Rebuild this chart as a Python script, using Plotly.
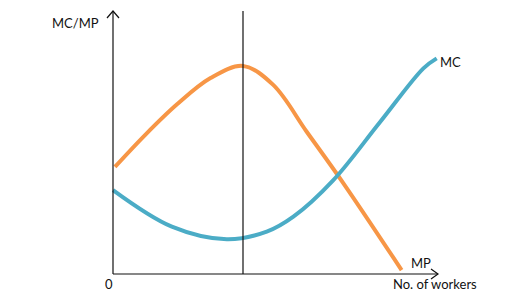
import plotly.graph_objects as go

# Data (x: number of workers in arbitrary units, y: MC/MP value)
mp_x = [0.06, 1.0, 1.97, 3.0, 4.0, 4.93, 5.96, 7.09, 8.88]
mp_y = [4.07, 5.30, 6.45, 7.45, 7.91, 7.19, 5.41, 3.45, 0.15]

mc_x = [0.0, 1.81, 3.5, 4.73, 5.55, 6.78, 8.2, 9.55, 9.96]
mc_y = [3.19, 1.80, 1.32, 1.61, 2.18, 3.57, 5.75, 7.82, 8.20]

x_axis_end = 10.0
y_axis_end = 10.0
vline_x = 4.0

ORANGE = "#F79646"
BLUE = "#4BACC6"
FONT = "Lato"

fig = go.Figure()
fig.add_trace(go.Scatter(x=mp_x, y=mp_y, mode="lines",
                         line=dict(color=ORANGE, width=4, shape="spline", smoothing=1.0),
                         hoverinfo="skip"))
fig.add_trace(go.Scatter(x=mc_x, y=mc_y, mode="lines",
                         line=dict(color=BLUE, width=4, shape="spline", smoothing=1.0),
                         hoverinfo="skip"))

shapes = [
    dict(type="line", x0=0, x1=0, y0=0, y1=y_axis_end, line=dict(color="#111", width=1.2)),
    dict(type="line", x0=0, x1=x_axis_end, y0=0, y1=0, line=dict(color="#111", width=1.2)),
    dict(type="line", x0=vline_x, x1=vline_x, y0=0, y1=y_axis_end, line=dict(color="#111", width=1.2)),
    # arrow heads (open chevrons, pixel-sized)
    dict(type="path", xsizemode="pixel", ysizemode="pixel", xanchor=0, yanchor=y_axis_end,
         path="M -6,-7 L 0,0 L 6,-7", line=dict(color="#111", width=1.2)),
    dict(type="path", xsizemode="pixel", ysizemode="pixel", xanchor=x_axis_end, yanchor=0,
         path="M -7,5 L 0,0 L -7,-5", line=dict(color="#111", width=1.2)),
]

ann = [
    dict(x=0, y=y_axis_end, text="MC/MP", xshift=-38, yshift=-12),
    dict(x=mc_x[-1], y=mc_y[-1], text="MC", xanchor="left", xshift=1, yshift=-4),
    dict(x=x_axis_end, y=0, text="MP", xshift=-17, yshift=11),
    dict(x=x_axis_end, y=0, text="No. of workers", xshift=-3, yshift=-10),
    dict(x=0, y=0, text="0", xshift=-4, yshift=-10),
]
for a in ann:
    a.update(showarrow=False, xref="x", yref="y",
             font=dict(family=FONT, size=13, color="#111"))

px_x = 32.5
px_y = 26.3
fig.update_layout(
    width=515, height=305,
    margin=dict(l=0, r=0, t=0, b=0),
    paper_bgcolor="white", plot_bgcolor="white",
    showlegend=False,
    xaxis=dict(range=[-113 / px_x, (515 - 113) / px_x], visible=False, fixedrange=True),
    yaxis=dict(range=[(274 - 305) / px_y, 274 / px_y], visible=False, fixedrange=True),
    shapes=shapes,
    annotations=ann,
)

fig.write_html("out.html")
